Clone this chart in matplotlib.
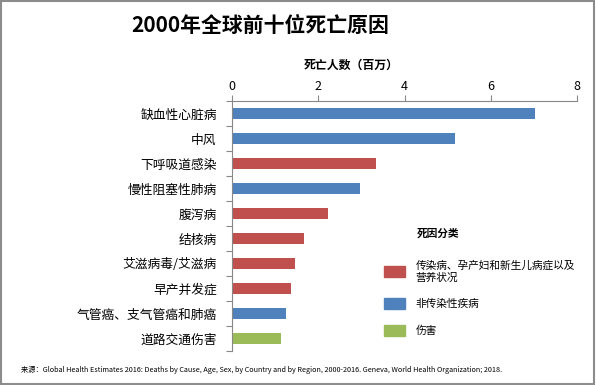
import matplotlib.pyplot as plt
from matplotlib.patches import Patch, Rectangle
from matplotlib.ticker import MultipleLocator

plt.rcParams['font.family'] = ['Noto Sans CJK SC', 'DejaVu Sans']

causes = ['缺血性心脏病', '中风', '下呼吸道感染', '慢性阻塞性肺病', '腹泻病',
          '结核病', '艾滋病毒/艾滋病', '早产并发症', '气管癌、支气管癌和肺癌', '道路交通伤害']
deaths = [7.02, 5.16, 3.33, 2.97, 2.23, 1.68, 1.46, 1.37, 1.26, 1.14]
groups = ['b', 'b', 'r', 'b', 'r', 'r', 'r', 'r', 'b', 'g']

colors = {'r': '#C0504D', 'b': '#4F81BD', 'g': '#9BBB59'}
group_names = {'r': '传染病、孕产妇和新生儿病症以及\n营养状况', 'b': '非传染性疾病', 'g': '伤害'}

W, H = 596, 385
fig = plt.figure(figsize=(W / 100, H / 100), dpi=100)
ax = fig.add_axes([232 / W, 1 - 351 / H, 345 / W, 250 / H])

ypos = list(range(len(causes)))
ax.barh(ypos, deaths, height=0.42, color=[colors[g] for g in groups])
ax.set_ylim(len(causes) - 0.5, -0.5)
ax.set_xlim(0, 8)
ax.xaxis.set_major_locator(MultipleLocator(2))
ax.xaxis.tick_top()
ax.tick_params(axis='x', direction='out', length=4, width=0.8, color='#888888',
               labelsize=9, pad=1.5)
ax.set_yticks(ypos)
ax.set_yticklabels(causes, fontsize=9.2)
ax.set_yticks([i + 0.5 for i in range(-1, len(causes))], minor=True)
ax.tick_params(axis='y', which='major', length=0, pad=11)
ax.tick_params(axis='y', which='minor', length=4, width=0.8, color='#888888')
for s in ['right', 'bottom']:
    ax.spines[s].set_visible(False)
for s in ['left', 'top']:
    ax.spines[s].set_color('#888888')
    ax.spines[s].set_linewidth(0.8)

fig.text(260 / W, 1 - 25 / H, '2000年全球前十位死亡原因', fontsize=15,
         fontweight='bold', ha='center', va='center')
fig.text(351 / W, 1 - 65 / H, '死亡人数（百万）', fontsize=8.6,
         fontweight='bold', ha='center', va='center')

fig.text(417 / W, 1 - 234 / H, '死因分类', fontsize=7.7, fontweight='bold',
         ha='left', va='center')
handles = [Patch(color=colors[k], label=group_names[k]) for k in ['r', 'b', 'g']]
fig.legend(handles=handles, loc='upper left', bbox_to_anchor=(380 / W, 1 - 256 / H),
           frameon=False, fontsize=7.7, handlelength=1.9, handleheight=1.2,
           handletextpad=1.0, labelspacing=1.45, borderaxespad=0)

fig.text(21 / W, 1 - 370 / H,
         '来源：Global Health Estimates 2016: Deaths by Cause, Age, Sex, by Country and by Region, '
         '2000-2016. Geneva, World Health Organization; 2018.',
         fontsize=5.2, ha='left', va='center')

fig.patches.append(Rectangle((0.002, 0.003), 0.995, 0.994, transform=fig.transFigure,
                             fill=False, edgecolor='#8c8c8c', linewidth=1.5))

fig.savefig('out.png', dpi=100)
